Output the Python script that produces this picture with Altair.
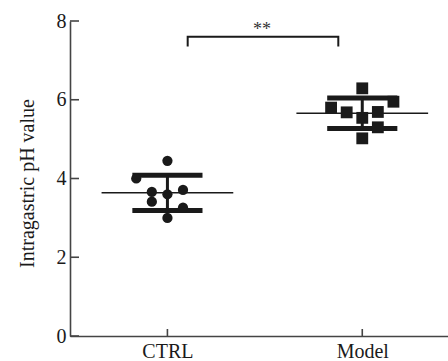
import altair as alt
import pandas as pd

# ---- data ----
groups = ["CTRL", "Model"]
ctrl_values = [4.45, 4.00, 3.66, 3.41, 3.60, 3.71, 3.26, 3.00]
ctrl_slots = [0, -2, -1, -1, 0, 1, 1, 0]
model_values = [6.29, 5.95, 5.80, 5.68, 5.54, 5.69, 5.30, 5.02]
model_slots = [0, 2, -2, -1, 0, 1, 1, 0]
y_ticks = [0, 2, 4, 6, 8]
sig_label = "**"

rows = []
for i, (vals, slots) in enumerate([(ctrl_values, ctrl_slots), (model_values, model_slots)]):
    for v, s in zip(vals, slots):
        rows.append({"group": groups[i], "idx": i + 1, "value": v, "slot": s})
df = pd.DataFrame(rows)

FONT = "Liberation Serif"
INK = "#1a1a1a"
AXC = "#444444"

xscale = alt.Scale(domain=[0.5, 2.44], nice=False, zero=False)
yscale = alt.Scale(domain=[0, 8], nice=False)

xaxis = alt.Axis(values=[1, 2], labelExpr="datum.value == 1 ? 'CTRL' : 'Model'",
                 title=None, grid=False, ticks=False, tickSize=0, labelPadding=5,
                 labelFont=FONT, labelFontSize=20, labelColor=INK,
                 domainColor=AXC, domainWidth=1.6)
yaxis = alt.Axis(values=y_ticks, title="Intragastric pH value", grid=False, ticks=False,
                 tickSize=0, labelPadding=4, labelFont=FONT, labelFontSize=20,
                 labelColor=INK, domainColor=AXC, domainWidth=1.6,
                 titleFont=FONT, titleFontSize=20, titleFontWeight="normal",
                 titleColor=INK, titleAngle=-90, titleX=-37, titleY=162,
                 titleAlign="center", titleBaseline="alphabetic")

base = alt.Chart(df)

# mean lines
mean_line = base.transform_aggregate(
    mean="mean(value)", groupby=["idx"]
).transform_calculate(
    x1="datum.idx - 0.338", x2="datum.idx + 0.338"
).mark_rule(color=INK, strokeWidth=1.5).encode(
    x=alt.X("x1:Q", scale=xscale, axis=xaxis),
    x2="x2:Q",
    y=alt.Y("mean:Q", scale=yscale, axis=yaxis),
)

stats = base.transform_aggregate(
    mean="mean(value)", sd="stdev(value)", groupby=["idx"]
).transform_calculate(
    lo="datum.mean - datum.sd", hi="datum.mean + datum.sd",
    x1="datum.idx - 0.18", x2="datum.idx + 0.18"
)

sd_hi = stats.mark_rule(color=INK, strokeWidth=5).encode(
    x=alt.X("x1:Q", scale=xscale), x2="x2:Q", y=alt.Y("hi:Q", scale=yscale))
sd_lo = stats.mark_rule(color=INK, strokeWidth=5).encode(
    x=alt.X("x1:Q", scale=xscale), x2="x2:Q", y=alt.Y("lo:Q", scale=yscale))
sd_v = stats.mark_rule(color=INK, strokeWidth=3).encode(
    x=alt.X("idx:Q", scale=xscale), y=alt.Y("lo:Q", scale=yscale), y2="hi:Q")

pts = base.transform_calculate(xp="datum.idx + datum.slot * 0.08")
circles = pts.transform_filter(alt.datum.group == groups[0]).mark_point(
    shape="circle", filled=True, opacity=1, color=INK, size=105
).encode(x=alt.X("xp:Q", scale=xscale), y=alt.Y("value:Q", scale=yscale))
squares = pts.transform_filter(alt.datum.group == groups[1]).mark_point(
    shape="square", filled=True, opacity=1, color=INK, size=140
).encode(x=alt.X("xp:Q", scale=xscale), y=alt.Y("value:Q", scale=yscale))

# inward tick marks
ytk = alt.Chart(pd.DataFrame({"v": y_ticks})).mark_rule(color=AXC, strokeWidth=1.6).encode(
    y=alt.Y("v:Q", scale=yscale), x=alt.value(0), x2=alt.value(9))
xtk = alt.Chart(pd.DataFrame({"v": [1, 2]})).mark_rule(color=AXC, strokeWidth=1.6).encode(
    x=alt.X("v:Q", scale=xscale), y=alt.value(315), y2=alt.value(308))

# significance bracket
br = pd.DataFrame({"x": [1.104, 1.104, 1.877, 1.877], "y": [7.35, 7.60, 7.60, 7.35], "o": [0, 1, 2, 3]})
bracket = alt.Chart(br).mark_line(color=INK, strokeWidth=2, strokeCap="butt").encode(
    x=alt.X("x:Q", scale=xscale), y=alt.Y("y:Q", scale=yscale), order="o:Q")
star = alt.Chart(pd.DataFrame({"t": [sig_label], "x": [1.486], "y": [7.64]})).mark_text(
    font=FONT, fontSize=18, color="#333333", baseline="alphabetic", align="center"
).encode(x=alt.X("x:Q", scale=xscale), y=alt.Y("y:Q", scale=yscale), text="t:N")

chart = alt.layer(mean_line, sd_hi, sd_lo, sd_v, circles, squares, ytk, xtk, bracket, star).properties(
    width=378, height=315,
    padding={"left": 70, "top": 21, "right": 0, "bottom": 25},
    autosize="none",
    background="white",
).configure_view(stroke=None)

chart.save("out.html", embed_options={"renderer": "svg", "actions": False})
